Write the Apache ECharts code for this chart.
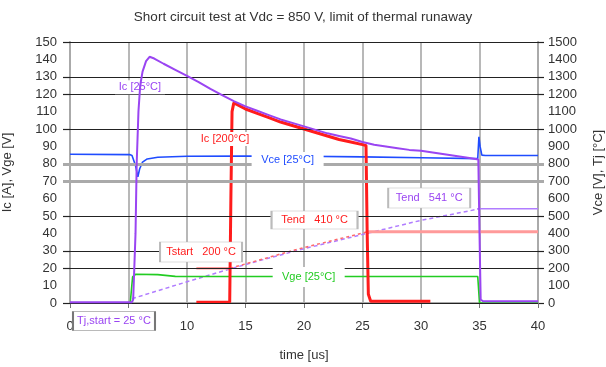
<!DOCTYPE html>
<html><head><meta charset="utf-8">
<script src="https://cdn.jsdelivr.net/npm/echarts@6/dist/echarts.min.js"></script>
<style>html,body{margin:0;padding:0;background:#fff}#c{width:606px;height:367px}</style>
</head><body><div id="c"></div>
<script>
const chartTitle = 'Short circuit test at Vdc = 850 V, limit of thermal runaway';

// Ic at 25°C (left axis, A)
const ic25T = [0, 5.3, 5.4, 5.6, 5.7, 5.85, 6.0, 6.2, 6.5, 6.8, 7.2, 8, 9, 10, 11, 12, 13, 14, 15, 16, 17, 18, 19, 20, 21, 22, 23, 24, 25, 26, 27, 28, 29, 30, 31, 32, 33, 34, 34.9, 35.0, 35.1, 35.3, 40];
const ic25V = [0.5, 0.5, 2, 40, 80, 110, 125, 133, 139, 141.5, 140.5, 137.5, 134, 130.5, 127, 123, 119.5, 116, 113, 110.5, 108, 105.5, 103.5, 101.5, 99.5, 97.5, 96, 94.5, 92.5, 91, 90, 89, 88, 87.5, 86.5, 85.5, 84.5, 83.5, 82.5, 40, 2, 1, 1];

// Ic at 200°C (left axis, A)
const ic200T = [10.8, 13.65, 13.75, 13.85, 14.0, 14.3, 15, 16, 17, 18, 19, 20, 21, 22, 23, 24, 25, 25.3, 25.4, 25.5, 25.7, 30.8];
const ic200V = [0.5, 0.5, 60, 110, 115, 114, 111.5, 109, 106.5, 104, 102, 100, 98, 96, 94, 92.5, 91, 90.5, 40, 5, 1, 1];

// Vce at 25°C (right axis, V)
const vceT = [0, 5.1, 5.3, 5.6, 5.8, 5.95, 6.2, 6.6, 7.5, 10, 15, 20, 25, 30, 34.85, 34.95, 35.05, 35.2, 35.5, 40];
const vceV = [855, 853, 848, 790, 725, 770, 810, 828, 838, 843, 845, 843, 840, 835, 830, 955, 900, 850, 848, 848];

// Vge at 25°C (left axis, V)
const vgeT = [0, 5.15, 5.35, 5.6, 7.5, 9, 34.85, 35.0, 40];
const vgeV = [0, 0, 15, 16.5, 16.3, 15.3, 15.2, 0, 0];

// Junction temperature estimates (right axis, °C)
const tj25T = [5.3, 10, 13.7, 16, 20, 25.5, 30, 35];
const tj25V = [25, 122, 196, 240, 312, 402, 475, 541];
const tj25EndT = [34.8, 40];
const tj25EndV = [541, 541];
const tj200T = [13.7, 19.6, 25.5];
const tj200V = [200, 312, 410];
const tj200StartT = [10.8, 13.7];
const tj200StartV = [200, 200];
const tj200EndT = [25.4, 40];
const tj200EndV = [410, 410];

// Horizontal reference lines drawn in the original
const darkGridLeft = [0, 20, 30, 50, 100, 120, 130, 150];
const grayGridLeft = [70, 80];
const darkGridRight = [0, 200, 300, 500, 1000, 1200, 1300, 1500];
const grayGridRight = [700, 800];

const pairs = (t, v) => t.map((x, i) => [x, v[i]]);

const PURPLE = '#9a45f2', RED = '#ff1c1c', BLUE = '#1f4cff', GREEN = '#22cc22';
const FONT = 'Liberation Sans, Arial, sans-serif';

function boxLabel(text, coord, color, w, h, border, offY) {
  return {
    coord: coord, symbol: 'rect', symbolSize: [w, h], symbolOffset: [0, offY || 0],
    itemStyle: {color: '#fff', borderColor: border || '#fff', borderWidth: border ? 1 : 0},
    label: {show: true, position: 'inside', formatter: text, color: color, fontSize: 11, fontFamily: FONT}
  };
}

const chart = echarts.init(document.getElementById('c'), null, {renderer: 'canvas'});
chart.setOption({
  animation: false,
  backgroundColor: '#fff',
  title: {text: chartTitle, left: 'center', top: 5, textStyle: {fontSize: 13.5, fontWeight: 'normal', color: '#333', fontFamily: FONT}},
  grid: {left: 70, right: 68, top: 42, bottom: 64, containLabel: false, outerBoundsMode: 'none'},
  xAxis: {
    type: 'value', min: 0, max: 40, interval: 5,
    name: 'time [us]', nameLocation: 'middle', nameGap: 46,
    nameTextStyle: {fontSize: 13, color: '#333', fontFamily: FONT},
    axisLine: {lineStyle: {color: '#aaa', width: 2}},
    axisTick: {show: true, length: 5, lineStyle: {color: '#777'}},
    axisLabel: {fontSize: 13, color: '#333', margin: 17, fontFamily: FONT},
    splitLine: {show: true, lineStyle: {color: '#a0a0a0', width: 1.5}}
  },
  yAxis: [
    {type: 'value', position: 'left', min: 0, max: 150, interval: 10, offset: 0,
     name: 'Ic [A], Vge [V]', nameLocation: 'middle', nameGap: 56,
     nameTextStyle: {fontSize: 13, color: '#333', fontFamily: FONT},
     axisLine: {show: true, lineStyle: {color: '#aaa', width: 2}},
     axisTick: {show: true, length: 7, customValues: darkGridLeft, lineStyle: {color: '#222', width: 1.2}},
     axisLabel: {fontSize: 13, color: '#333', margin: 13, fontFamily: FONT},
     splitLine: {show: false}},
    {type: 'value', position: 'right', min: 0, max: 1500, interval: 100, offset: 0,
     name: 'Vce [V], Tj [°C]', nameLocation: 'middle', nameGap: 54, nameRotate: 90,
     nameTextStyle: {fontSize: 13, color: '#333', fontFamily: FONT},
     axisLine: {show: true, lineStyle: {color: '#aaa', width: 2}},
     axisTick: {show: true, length: 6, customValues: darkGridRight, lineStyle: {color: '#222', width: 1.2}},
     axisLabel: {fontSize: 13, color: '#333', margin: 10, fontFamily: FONT, formatter: v => String(v)},
     splitLine: {show: false}},
    {type: 'value', position: 'left', min: 0, max: 150, interval: 10, offset: 0,
     axisLine: {show: false}, axisLabel: {show: false}, splitLine: {show: false},
     axisTick: {show: true, length: 7, customValues: grayGridLeft, lineStyle: {color: '#aaa', width: 3}}},
    {type: 'value', position: 'right', min: 0, max: 1500, interval: 100, offset: 0,
     axisLine: {show: false}, axisLabel: {show: false}, splitLine: {show: false},
     axisTick: {show: true, length: 6, customValues: grayGridRight, lineStyle: {color: '#aaa', width: 3}}}
  ],
  series: [
    {type: 'line', yAxisIndex: 0, data: [], z: 1, silent: true,
     markLine: {silent: true, symbol: ['none', 'none'], label: {show: false}, animation: false,
       data: darkGridLeft.map(v => ({yAxis: v, lineStyle: {color: '#222', width: 1.2, type: 'solid'}}))
         .concat(grayGridLeft.map(v => ({yAxis: v, lineStyle: {color: '#aaa', width: 3, type: 'solid'}})))}},
    {name: 'Tj 25 dashed', type: 'line', yAxisIndex: 1, data: pairs(tj25T, tj25V), showSymbol: false, z: 2,
     lineStyle: {color: '#b07cff', width: 1.5, type: [4, 3]}},
    {name: 'Tj 25 end', type: 'line', yAxisIndex: 1, data: pairs(tj25EndT, tj25EndV), showSymbol: false, z: 2,
     lineStyle: {color: '#b07cff', width: 1.5}},
    {name: 'Tj 200 dashed', type: 'line', yAxisIndex: 1, data: pairs(tj200T, tj200V), showSymbol: false, z: 2,
     lineStyle: {color: '#ff6a6a', width: 1.5, type: [3, 3]}},
    {name: 'Tj 200 start', type: 'line', yAxisIndex: 1, data: pairs(tj200StartT, tj200StartV), showSymbol: false, z: 2,
     lineStyle: {color: '#ff9a9a', width: 2.5}},
    {name: 'Tj 200 end', type: 'line', yAxisIndex: 1, data: pairs(tj200EndT, tj200EndV), showSymbol: false, z: 2,
     lineStyle: {color: '#ff9a9a', width: 3}},
    {name: 'Vce [25°C]', type: 'line', yAxisIndex: 1, data: pairs(vceT, vceV), showSymbol: false, z: 3,
     lineStyle: {color: BLUE, width: 1.6}},
    {name: 'Vge [25°C]', type: 'line', yAxisIndex: 0, data: pairs(vgeT, vgeV), showSymbol: false, z: 3,
     lineStyle: {color: GREEN, width: 1.6}},
    {name: 'Ic [200°C]', type: 'line', yAxisIndex: 0, data: pairs(ic200T, ic200V), showSymbol: false, z: 4,
     lineStyle: {color: RED, width: 3}},
    {name: 'Ic [25°C]', type: 'line', yAxisIndex: 0, data: pairs(ic25T, ic25V), showSymbol: false, z: 5,
     lineStyle: {color: PURPLE, width: 2}},
    {type: 'line', yAxisIndex: 0, data: [], z: 10, silent: true,
     markPoint: {silent: true, animation: false, data: [
       boxLabel('Ic [25°C]', [5.98, 124], PURPLE, 50, 14),
       boxLabel('Ic [200°C]', [13.25, 94.3], RED, 58, 14),
       boxLabel('Vce [25°C]', [18.6, 82.2], BLUE, 72, 16),
       boxLabel('Vge [25°C]', [20.4, 14.9], GREEN, 72, 20),
       boxLabel('Tstart   200 °C', [11.2, 29.3], RED, 82, 20, '#bbb'),
       boxLabel('Tend   410 °C', [20.9, 47.7], RED, 86, 18, '#bbb'),
       boxLabel('Tend   541 °C', [30.7, 60.3], PURPLE, 82, 20, '#bbb'),
       boxLabel('Tj,start = 25 °C', [3.76, 0], PURPLE, 82, 19, '#777', 18)
     ]}}
  ]
});
</script></body></html>
